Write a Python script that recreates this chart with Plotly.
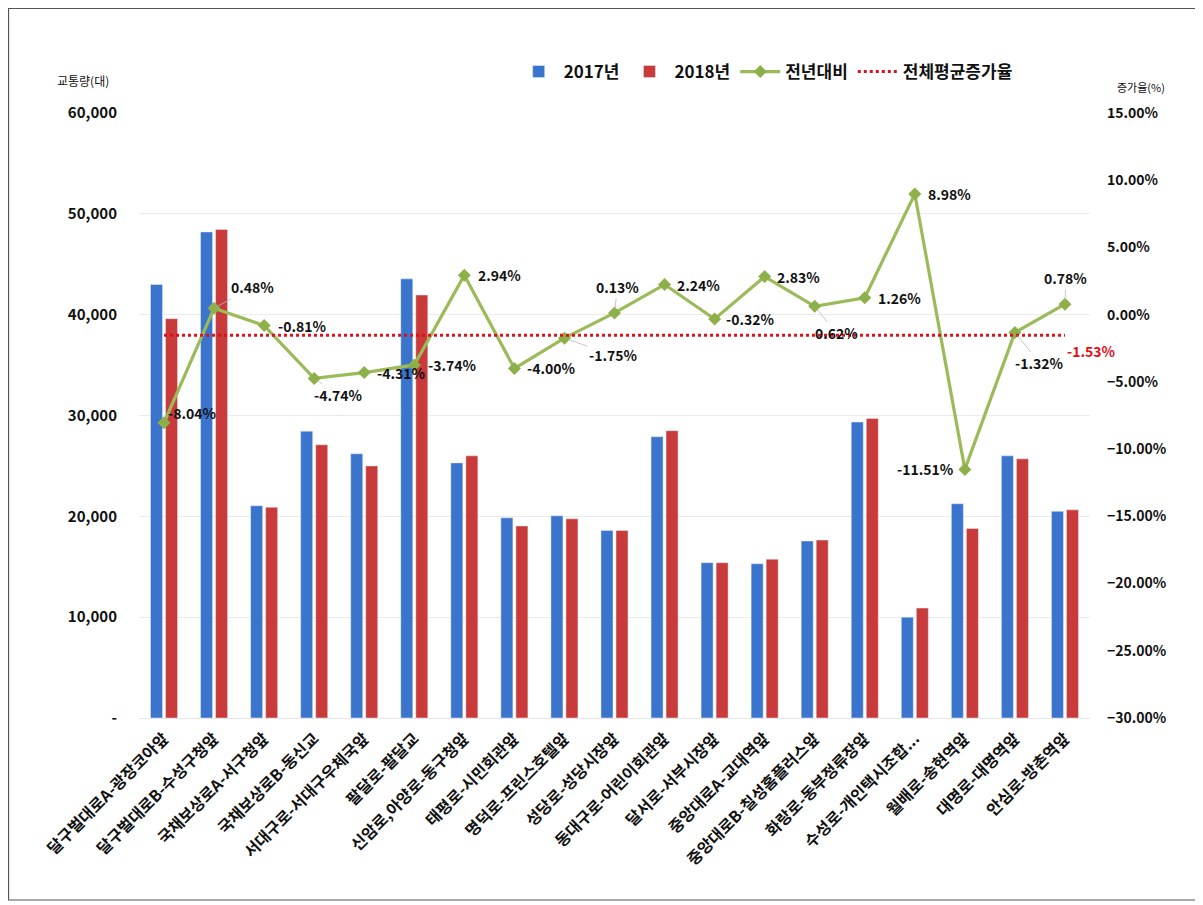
import plotly.graph_objects as go

categories = ["달구벌대로A-광장코아앞", "달구벌대로B-수성구청앞", "국채보상로A-서구청앞", "국채보상로B-동신교",
              "서대구로-서대구우체국앞", "팔달로-팔달교", "신암로,아양로-동구청앞", "태평로-시민회관앞",
              "명덕로-프린스호텔앞", "성당로-성당시장앞", "동대구로-어린이회관앞", "달서로-서부시장앞",
              "중앙대로A-교대역앞", "중앙대로B-칠성홈플러스앞", "화랑로-동부정류장앞", "수성로-개인택시조합...",
              "월배로-송현역앞", "대명로-대명역앞", "안심로-방촌역앞"]
traffic_2017 = [43000, 48200, 21050, 28450, 26200, 43550, 25300, 19850, 20050, 18600,
                27900, 15400, 15300, 17550, 29350, 10000, 21250, 26000, 20500]
traffic_2018 = [39600, 48450, 20900, 27100, 25000, 41950, 26000, 19050, 19750, 18600,
                28500, 15400, 15750, 17650, 29700, 10900, 18800, 25700, 20650]
growth_pct = [-8.04, 0.48, -0.81, -4.74, -4.31, -3.74, 2.94, -4.00, -1.75, 0.13,
              2.24, -0.32, 2.83, 0.62, 1.26, 8.98, -11.51, -1.32, 0.78]
avg_growth = -1.53
left_ticks = [0, 10000, 20000, 30000, 40000, 50000, 60000]
left_tick_text = ["-", "10,000", "20,000", "30,000", "40,000", "50,000", "60,000"]

# label placement (pixel offsets, dx right, dy down) and whether a leader line is drawn
label_offsets = [(28, -10, False), (38, -21, True), (38, 0, False), (24, 17, True), (37, 0, False),
                 (38, 0, False), (35, 0, False), (37, 0, False), (49, 17, True), (3, -26, True),
                 (34, 0, False), (36, 0, False), (34, 0, False), (22, 27, True), (35, 0, False),
                 (35, 0, False), (-39, 0, False), (25, 31, True), (1, -26, True)]

FONT = "Noto Sans CJK KR"
blue = "#3B74CC"
red = "#C93A3A"
green = "#9BBB59"

fig = go.Figure()
fig.add_trace(go.Bar(x=categories, y=traffic_2017, name="2017년", marker_color=blue, yaxis="y"))
fig.add_trace(go.Bar(x=categories, y=traffic_2018, name="2018년", marker_color=red, yaxis="y"))
fig.add_trace(go.Scatter(x=categories, y=growth_pct, name="전년대비", yaxis="y2", mode="lines+markers",
                         line=dict(color=green, width=3.2),
                         marker=dict(symbol="diamond", size=10, color="#8DB04A")))
fig.add_trace(go.Scatter(x=categories, y=[avg_growth] * len(categories), name="전체평균증가율", yaxis="y2",
                         mode="lines", line=dict(color="#E0101A", width=3, dash="dot")))

annotations = []
for cat, v, (dx, dy, leader) in zip(categories, growth_pct, label_offsets):
    txt = f"{v:.2f}%"
    if leader:
        annotations.append(dict(x=cat, y=v, xref="x", yref="y2", text=txt, showarrow=True,
                                ax=dx, ay=dy, axref="pixel", ayref="pixel", arrowhead=0,
                                arrowwidth=0.8, arrowcolor="#B4B8C8", standoff=4,
                                font=dict(family=FONT, size=14, color="#111111", weight="bold")))
    else:
        annotations.append(dict(x=cat, y=v, xref="x", yref="y2", text=txt, showarrow=False,
                                xshift=dx, yshift=-dy,
                                font=dict(family=FONT, size=14, color="#111111", weight="bold")))
annotations.append(dict(x=categories[-1], y=avg_growth, xref="x", yref="y2", text=f"{avg_growth:.2f}%",
                        showarrow=False, xshift=27, yshift=-16,
                        font=dict(family=FONT, size=14, color="#E0101A", weight="bold")))
annotations.append(dict(x=-0.0589, y=1.0545, xref="paper", yref="paper", text="교통량(대)", showarrow=False,
                        xanchor="center", yanchor="middle",
                        font=dict(family=FONT, size=12, color="#111111")))
annotations.append(dict(x=1.0536, y=1.043, xref="paper", yref="paper", text="증가율(%)", showarrow=False,
                        xanchor="center", yanchor="middle",
                        font=dict(family=FONT, size=11, color="#111111")))

fig.update_layout(
    width=1203, height=905,
    margin=dict(l=131, r=121, t=105, b=195, autoexpand=False),
    paper_bgcolor="white", plot_bgcolor="white",
    font=dict(family=FONT, color="#111111"),
    barmode="group", bargap=0.4, bargroupgap=0.2,
    xaxis=dict(range=[-0.5, len(categories) - 0.5], tickangle=-45,
               tickfont=dict(family=FONT, size=16, color="#111111", weight="bold"),
               showgrid=False, showline=True, linecolor="#E6E6E6", ticks="", automargin=False,
               ticklabelstandoff=4),
    yaxis=dict(range=[0, 60000], tickvals=left_ticks, ticktext=left_tick_text,
               tickfont=dict(family=FONT, size=15, color="#111111", weight="bold"),
               showgrid=True, gridcolor="#EBEBEB", gridwidth=1, zeroline=False, ticks="",
               ticklabelstandoff=21, automargin=False),
    yaxis2=dict(range=[-30, 15], dtick=5, tick0=-30, overlaying="y", side="right",
                tickformat=".2f", ticksuffix="%", showgrid=False, zeroline=False,
                tickfont=dict(family=FONT, size=14, color="#111111", weight="bold"),
                ticklabelstandoff=16, automargin=False),
    legend=dict(orientation="h", x=0.394, y=1.0678, xanchor="left", yanchor="middle",
                font=dict(family=FONT, size=17, color="#111111", weight="bold"),
                bgcolor="rgba(0,0,0,0)", itemwidth=40),
    annotations=annotations,
    shapes=[dict(type="rect", xref="paper", yref="paper", x0=-0.1372, x1=1.1125, y0=-0.3008, y1=1.1727,
                 line=dict(color="#555555", width=1.2), fillcolor="rgba(0,0,0,0)")],
)

fig.write_html("out.html")
